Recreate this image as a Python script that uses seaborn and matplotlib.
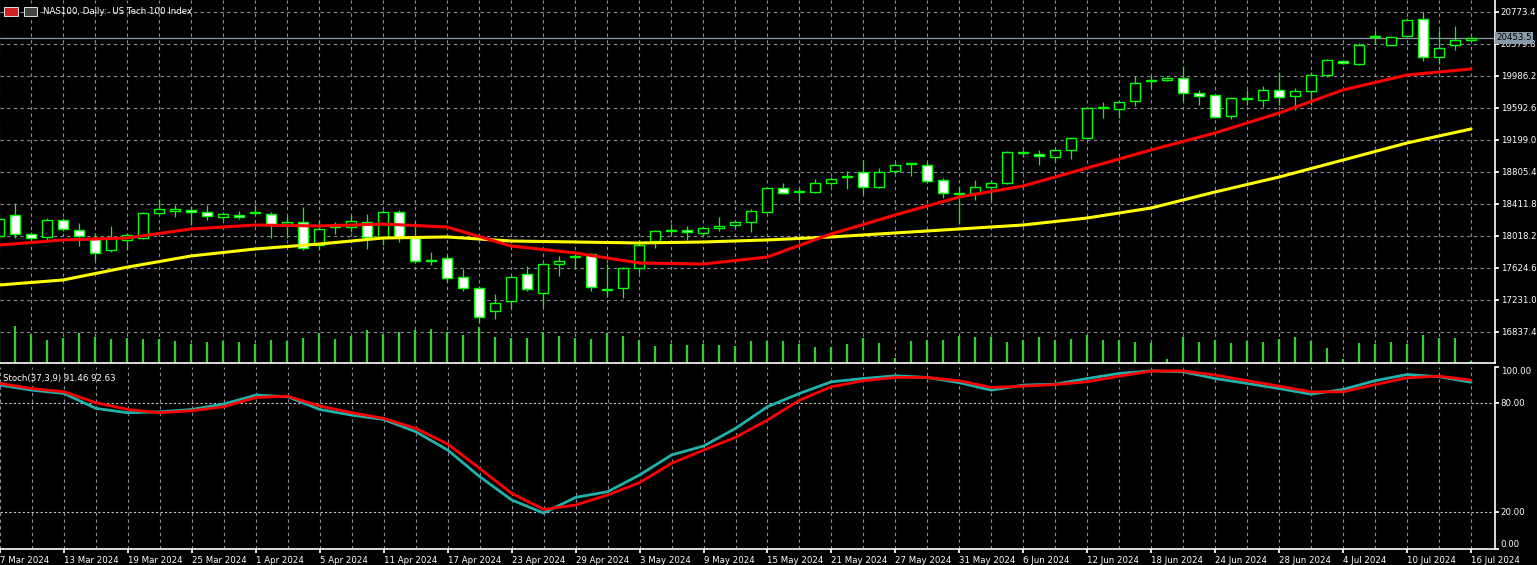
import matplotlib
matplotlib.use("Agg")
import matplotlib.pyplot as plt
import seaborn as sns
import numpy as np
import pandas as pd
from matplotlib.patches import Rectangle
from matplotlib import font_manager

opens = [18018,18276,18042,18006,18215,18092,17993,17846,17969,17993,18301,18325,18338,18313,18252,18276,18301,18288,18165,18190,
         17907,18128,18128,18190,18006,18313,17993,17723,17747,17514,17378,17095,17218,17550,17317,17673,17765,17796,17354,17378,
         17624,17956,18085,18092,18055,18116,18153,18190,18313,18608,18559,18559,18670,18744,18805,18621,18817,18903,18891,18707,
         18534,18547,18621,18670,19039,19026,18990,19076,19223,19592,19580,19678,19924,19937,19961,19777,19752,19494,19703,19691,
         19814,19740,19801,19998,20170,20133,20466,20367,20478,20687,20220,20367,20429]
highs = [18288,18424,18067,18239,18239,18178,18055,18141,18055,18313,18473,18399,18387,18399,18313,18325,18399,18313,18264,18375,
         18215,18190,18276,18288,18338,18338,18190,17821,17784,17612,17403,17304,17526,17649,17686,17772,17796,17809,17673,17637,
         17969,18092,18165,18141,18141,18252,18215,18350,18621,18670,18608,18719,18744,18817,18953,18854,18916,18916,18928,18731,
         18633,18707,18707,19063,19076,19076,19088,19236,19592,19666,19678,19986,19986,19974,20109,19814,19752,19728,19814,19863,
         20035,19838,20035,20195,20183,20392,20552,20478,20699,20773,20552,20601,20460]
lows = [17969,17993,17956,17969,18079,17895,17723,17821,17846,17981,18276,18252,18153,18215,18215,18227,18276,17993,17993,17846,
        17846,18042,18067,17858,17907,17944,17686,17661,17452,17341,16948,16997,17132,17341,17145,17526,17624,17341,17268,17255,
        17563,17870,18018,17969,18006,18079,18116,18067,18301,18534,18448,18547,18633,18596,18534,18608,18793,18756,18670,18485,
        18165,18461,18461,18657,18990,18891,18940,18965,19211,19469,19469,19617,19851,19924,19678,19629,19469,19457,19629,19605,
        19629,19568,19629,19974,20133,20121,20379,20355,20466,20170,20133,20306,20420]
closes = [18227,18042,17993,18215,18104,18018,17809,17993,18030,18301,18350,18350,18313,18264,18288,18252,18313,18153,18190,17870,
          18104,18135,18202,18006,18313,18006,17710,17715,17501,17378,17022,17194,17514,17366,17673,17710,17772,17391,17360,17624,
          17907,18079,18092,18067,18116,18141,18190,18325,18608,18547,18565,18670,18719,18750,18621,18805,18891,18910,18694,18547,
          18540,18621,18670,19051,19045,19002,19076,19223,19592,19598,19666,19900,19930,19961,19777,19740,19482,19715,19709,19814,
          19728,19801,19998,20183,20146,20367,20472,20466,20675,20220,20330,20429,20453]
volumes = [30,37,29,23,25,30,26,24,25,24,24,22,19,21,22,21,19,23,22,25,30,24,27,33,29,31,33,34,31,28,36,26,25,25,31,27,25,24,30,27,
           23,17,19,18,19,18,17,22,22,22,19,16,16,19,25,20,5,22,23,23,27,26,26,21,23,26,23,24,28,23,23,21,20,4,26,21,23,20,22,21,
           24,26,22,15,4,20,19,21,19,28,25,25,2]
ma_idx = list(range(0, 93, 4))
ma_fast = [17907,17969,17993,18104,18153,18141,18165,18128,17895,17809,17686,17673,17759,18042,18276,18497,18633,18854,19076,19285,
           19531,19814,19998,20072]
ma_slow = [17415,17477,17634,17772,17858,17919,17993,18006,17956,17944,17932,17944,17969,18006,18055,18104,18153,18239,18362,18559,
           18743,18952,19162,19334]
st_idx = list(range(0, 93, 2))
stoch_main = [89.9,87.1,85.3,77.1,74.7,75.2,76.5,79.5,84.4,83.5,76.5,73.4,71.0,64.3,54.2,39.6,26.8,19.6,28.2,31.3,40.5,51.5,56.4,66.1,78.0,
              85.3,91.7,93.5,95.0,94.1,91.2,87.1,89.9,90.4,93.5,96.3,97.7,97.2,93.5,90.8,88.0,84.9,87.5,92.3,95.7,94.5,91.46]
stoch_sig = [90.8,88.0,86.2,80.2,76.5,74.7,75.8,78.0,83.1,83.8,78.4,74.7,71.6,66.1,57.5,44.1,30.4,21.6,24.0,29.5,36.3,46.9,54.2,61.2,70.7,
             81.6,89.0,92.3,94.1,94.1,92.3,88.6,89.3,90.2,91.7,94.8,97.6,97.7,95.4,92.3,89.3,86.2,86.2,90.2,93.9,94.8,92.63]
date_labels = ["7 Mar 2024","13 Mar 2024","19 Mar 2024","25 Mar 2024","1 Apr 2024","5 Apr 2024","11 Apr 2024","17 Apr 2024",
               "23 Apr 2024","29 Apr 2024","3 May 2024","9 May 2024","15 May 2024","21 May 2024","27 May 2024","31 May 2024",
               "6 Jun 2024","12 Jun 2024","18 Jun 2024","24 Jun 2024","28 Jun 2024","4 Jul 2024","10 Jul 2024","16 Jul 2024"]
price_ticks = [20773.4,20379.8,19986.2,19592.6,19199.0,18805.4,18411.8,18018.2,17624.6,17231.0,16837.4]
last_price = 20453.5

sns.set_theme(style="dark")
names = {f.name for f in font_manager.fontManager.ttflist}
fam = ['Liberation Sans Narrow', 'DejaVu Sans'] if 'Liberation Sans Narrow' in names else ['DejaVu Sans']
narrow = 'Liberation Sans Narrow' in names
plt.rcParams['font.family'] = fam
fs = 7.5 if narrow else 6.2

W, H = 1537, 565
fig = plt.figure(figsize=(W/100, H/100), dpi=100, facecolor="black")
bg = fig.add_axes([0, 1-363/H, 1495/W, 363/H], facecolor="black")
bg.axis("off")
axv = fig.add_axes([0, 1-363/H, 1495/W, 363/H])
axv.patch.set_visible(False)
ax = fig.add_axes([0, 1-363/H, 1495/W, 363/H])
ax.patch.set_visible(False)
ax2 = fig.add_axes([0, 1-548.7/H, 1495/W, 182/H], facecolor="black")

XL = (0.06, 93.5)
grid_kw = dict(color="#8c8c9c", lw=0.8, ls=(0, (3, 3)))
for a in (bg, ax2):
    a.set_xlim(*XL)
    for xv in range(0, 93, 2):
        a.axvline(xv, zorder=0, **grid_kw)
for a in (ax, ax2):
    a.set_xlim(*XL)
    for s in a.spines.values():
        s.set_color("white"); s.set_linewidth(1.2)
    a.spines['left'].set_visible(False); a.spines['top'].set_visible(False)
    a.grid(False)

bg.set_ylim(16455.7, 20920.6)
for p in price_ticks:
    bg.axhline(p, zorder=0, **grid_kw)

axv.set_xlim(*XL)
axv.set_ylim(0, 363)
axv.axis("off")
axv.vlines(range(len(volumes)), 0, volumes, color="#32cd32", lw=1.6)

ax.set_ylim(16455.7, 20920.6)
lime = "#00ff00"
for i, (o, h, l, c) in enumerate(zip(opens, highs, lows, closes)):
    ax.vlines(i, l, h, color=lime, lw=0.9, zorder=3)
    bot, top = min(o, c), max(o, c)
    hgt = max(top - bot, 8)
    ax.add_patch(Rectangle((i-0.32, bot), 0.64, hgt, facecolor="white" if c < o else "black",
                           edgecolor=lime, lw=1.0, zorder=4))

sns.lineplot(x=ma_idx, y=ma_slow, ax=ax, color="#ffff00", lw=2.2, zorder=5)
sns.lineplot(x=ma_idx, y=ma_fast, ax=ax, color="#ff0000", lw=2.2, zorder=6)
ax.axhline(last_price, color="#8a99a8", lw=0.9, zorder=2)

ax.yaxis.tick_right()
ax.set_yticks(price_ticks)
ax.set_yticklabels([f"{p:.1f}" for p in price_ticks], color="white", fontsize=fs)
ax.tick_params(axis="y", length=3, color="white", pad=1, direction="out", right=True)
ax.set_xticks([]); ax.set_ylabel(""); ax.set_xlabel("")
ax.text(1.001, (last_price-16455.7)/(20920.6-16455.7), f"{last_price:.1f}", transform=ax.transAxes,
        color="black", fontsize=fs, va="center", ha="left",
        bbox=dict(boxstyle="square,pad=0.15", fc="#8a99a8", ec="none"), clip_on=False, zorder=10)
ax.text(0.029, 0.968, "NAS100, Daily:  US Tech 100 Index", transform=ax.transAxes, color="white", fontsize=fs, va="center")
ax.add_patch(Rectangle((0.003, 0.955), 0.009, 0.026, transform=ax.transAxes, fc="#cc2222", ec="white", lw=0.6, clip_on=False))
ax.add_patch(Rectangle((0.016, 0.955), 0.009, 0.026, transform=ax.transAxes, fc="#444444", ec="white", lw=0.6, clip_on=False))

ax2.set_ylim(0, 100)
for v in (20, 80):
    ax2.axhline(v, color="#c8c8c8", lw=0.8, ls=(0, (2, 2)), zorder=0)
sns.lineplot(x=st_idx, y=stoch_main, ax=ax2, color="#20b2aa", lw=2.0, zorder=3)
sns.lineplot(x=st_idx, y=stoch_sig, ax=ax2, color="#ff0000", lw=2.0, zorder=4)
ax2.yaxis.tick_right()
ax2.set_yticks([0, 20, 80, 100])
ax2.set_yticklabels(["0.00", "20.00", "80.00", "100.00"], color="white", fontsize=fs)
ax2.tick_params(axis="y", length=3, color="white", pad=1, right=True)
for lab, yv in zip(ax2.get_yticklabels(), [0, 20, 80, 100]):
    lab.set_va("bottom" if yv == 0 else ("top" if yv == 100 else "center"))
ax2.set_xticks(range(0, 93, 4))
ax2.set_xticklabels(date_labels, color="white", fontsize=fs, ha="left")
ax2.tick_params(axis="x", length=3, color="white", pad=2, bottom=True)
ax2.set_ylabel(""); ax2.set_xlabel("")
ax2.text(0.002, 0.96, "Stoch(37,3,9) 91.46 92.63", transform=ax2.transAxes, color="white", fontsize=fs, va="top")

fig.savefig("out.png", dpi=100, facecolor="black")
